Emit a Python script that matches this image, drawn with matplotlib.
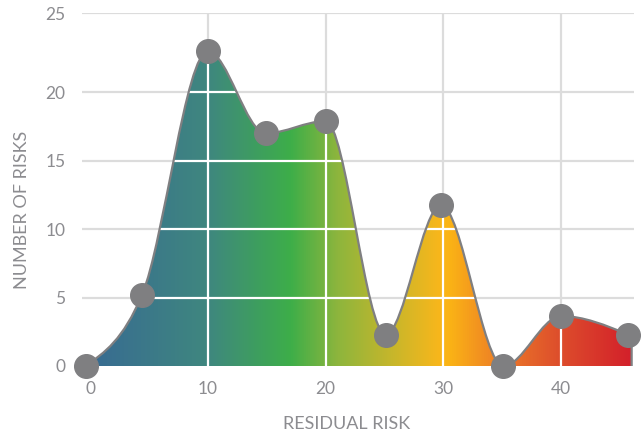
import numpy as np
import matplotlib
matplotlib.use("Agg")
import matplotlib.pyplot as plt
from matplotlib.path import Path
from matplotlib.patches import PathPatch
from matplotlib.colors import LinearSegmentedColormap

# residual risk vs number of risks
risk_x = [-0.4, 4.4, 10, 14.9, 20, 25.1, 29.8, 35.1, 40, 45.7]
risk_n = [0, 5.2, 23.0, 17.0, 17.9, 2.3, 11.75, 0, 3.65, 2.3]
x_end = 46

xticks = [0, 10, 20, 30, 40]
xtick_labels = ["0", "10", "20", "30", "40"]
yticks = [0, 5, 10, 15, 20, 25.8]
ytick_labels = ["0", "5", "10", "15", "20", "25"]

# horizontal colour ramp of the fill
grad_x = [0, 10, 17, 21, 29.5, 30.5, 35, 40, 46]
grad_c = ["#386b92", "#3f877f", "#3dae49", "#8db53d", "#f6b71c",
          "#fbb415", "#ec7a28", "#dd4d2c", "#d3202a"]

grey_txt = "#8c8c90"
grey_line = "#7f7f81"
grid_c = "#dcdcdc"

plt.rcParams['font.family'] = ['Lato', 'DejaVu Sans']


def monotone_tangents(xs, ys):
    # same slopes as d3.curveMonotoneX
    xs = np.asarray(xs, float)
    ys = np.asarray(ys, float)
    n = len(xs)
    h = np.diff(xs)
    s = np.diff(ys) / h
    t = np.zeros(n)
    for i in range(1, n - 1):
        p = (s[i - 1] * h[i] + s[i] * h[i - 1]) / (h[i - 1] + h[i])
        t[i] = (np.sign(s[i - 1]) + np.sign(s[i])) * min(abs(s[i - 1]), abs(s[i]), 0.5 * abs(p))
    t[0] = (3 * s[0] - t[1]) / 2
    t[-1] = (3 * s[-1] - t[-2]) / 2
    return t


def curve_verts(xs, ys):
    t = monotone_tangents(xs, ys)
    verts = [(xs[0], ys[0])]
    codes = [Path.MOVETO]
    for i in range(len(xs) - 1):
        dx = (xs[i + 1] - xs[i]) / 3
        verts += [(xs[i] + dx, ys[i] + dx * t[i]),
                  (xs[i + 1] - dx, ys[i + 1] - dx * t[i + 1]),
                  (xs[i + 1], ys[i + 1])]
        codes += [Path.CURVE4] * 3
    return verts, codes


fig = plt.figure(figsize=(6.43, 4.37), dpi=100)
ax = fig.add_axes([82 / 643, 1 - 366 / 437, 552 / 643, 353 / 437])
ax.set_xlim(-0.7, 46.2)
ax.set_ylim(0, 25.8)

# grey grid underneath
for y in yticks[1:]:
    ax.axhline(y, color=grid_c, lw=1.6, zorder=1)
for x in xticks[1:]:
    ax.axvline(x, color=grid_c, lw=1.6, zorder=1)

verts, codes = curve_verts(risk_x, risk_n)
fill_verts = verts + [(x_end, risk_n[-1]), (x_end, 0), (risk_x[0], 0), (risk_x[0], risk_n[0])]
fill_codes = codes + [Path.LINETO, Path.LINETO, Path.LINETO, Path.CLOSEPOLY]
fill_patch = PathPatch(Path(fill_verts, fill_codes), facecolor="none", edgecolor="none")
ax.add_patch(fill_patch)

cmap = LinearSegmentedColormap.from_list(
    "ramp", list(zip(np.array(grad_x) / grad_x[-1], grad_c)))
img = ax.imshow(np.linspace(0, 1, 512).reshape(1, -1), cmap=cmap, aspect="auto",
                extent=(0, grad_x[-1], 0, 26), origin="lower", zorder=2,
                interpolation="bilinear")
img.set_clip_path(fill_patch)
# keep the left sliver (x < 0) in the first colour
ax.axvspan(-0.7, 0, color=grad_c[0], zorder=1.9, lw=0).set_clip_path(fill_patch)

# white grid inside the filled area
for y in yticks[1:]:
    ln = ax.axhline(y, color="white", lw=1.6, zorder=3)
    ln.set_clip_path(fill_patch)
for x in xticks[1:]:
    ln = ax.axvline(x, color="white", lw=1.6, zorder=3)
    ln.set_clip_path(fill_patch)

# outline
line_verts = verts + [(x_end, risk_n[-1]), (x_end, 0)]
line_codes = codes + [Path.LINETO, Path.LINETO]
ax.add_patch(PathPatch(Path(line_verts, line_codes), facecolor="none",
                       edgecolor=grey_line, lw=1.6, zorder=4))

ax.plot(risk_x, risk_n, "o", color=grey_line, markersize=17, zorder=5, clip_on=False)

for s in ax.spines.values():
    s.set_visible(False)
ax.set_xticks(xticks)
ax.set_xticklabels(xtick_labels)
ax.set_yticks(yticks)
ax.set_yticklabels(ytick_labels)
ax.tick_params(length=0, colors=grey_txt, labelsize=12.5)
ax.tick_params(axis="y", pad=12)
ax.tick_params(axis="x", pad=11)

ax.set_xlabel("RESIDUAL RISK", color=grey_txt, fontsize=13)
ax.set_ylabel("NUMBER OF RISKS", color=grey_txt, fontsize=13)
ax.xaxis.set_label_coords((347 - 82) / 552, -(424 - 366) / 353)
ax.yaxis.set_label_coords(-(82 - 22) / 552, (366 - 210) / 353)
ax.xaxis.label.set_va("center")
ax.yaxis.label.set_va("center")

fig.savefig("out.png", dpi=100)
